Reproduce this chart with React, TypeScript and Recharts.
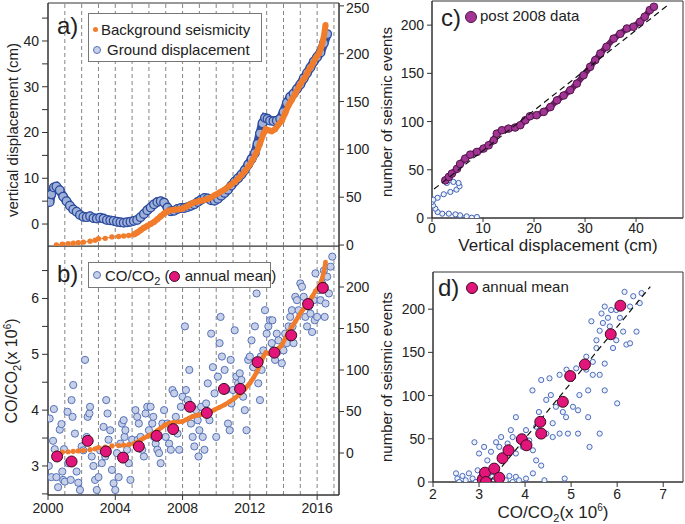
import React from 'react';
import { ScatterChart, Scatter, XAxis, YAxis, ReferenceLine, ReferenceArea } from 'recharts';

const font = '"Liberation Sans", Arial, sans-serif';

// shared time axis
const gridYears = [2001, 2002, 2003, 2004, 2005, 2006, 2007, 2008, 2009, 2010, 2011, 2012, 2013, 2014, 2015, 2016, 2017];
const yearTicks = [2000, 2004, 2008, 2012, 2016];

// a) ground displacement (cm)
const dispYears = [2000.1, 2000.2, 2000.35, 2000.5, 2000.7, 2000.9, 2001.1, 2001.3, 2001.5, 2001.7, 2001.9, 2002.1, 2002.3, 2002.5, 2002.7, 2002.9, 2003.1, 2003.3, 2003.5, 2003.7, 2003.9, 2004.1, 2004.3, 2004.5, 2004.7, 2004.9, 2005.1, 2005.3, 2005.5, 2005.7, 2005.9, 2006.1, 2006.3, 2006.5, 2006.7, 2006.9, 2007.1, 2007.3, 2007.5, 2007.7, 2007.9, 2008.1, 2008.3, 2008.5, 2008.7, 2008.9, 2009.1, 2009.3, 2009.5, 2009.7, 2009.9, 2010.1, 2010.3, 2010.5, 2010.7, 2010.9, 2011.1, 2011.3, 2011.5, 2011.7, 2011.9, 2012.1, 2012.3, 2012.45, 2012.6, 2012.75, 2012.9, 2013.05, 2013.2, 2013.4, 2013.6, 2013.8, 2014.0, 2014.2, 2014.4, 2014.6, 2014.8, 2015.0, 2015.2, 2015.4, 2015.6, 2015.8, 2016.0, 2016.2, 2016.4, 2016.6];
const dispCm = [4.8, 6.5, 8.0, 8.2, 7.4, 6.0, 5.0, 4.0, 3.2, 2.7, 2.0, 1.6, 1.5, 1.7, 1.3, 1.2, 1.4, 1.2, 0.9, 0.8, 0.7, 0.5, 0.4, 0.3, 0.4, 0.5, 0.7, 0.9, 1.5, 2.2, 3.0, 3.6, 4.3, 4.8, 5.0, 4.7, 3.6, 2.8, 2.9, 3.3, 3.5, 3.5, 3.7, 4.0, 4.3, 4.8, 5.3, 5.7, 5.6, 5.2, 5.1, 5.5, 6.2, 6.8, 7.5, 8.4, 9.3, 10.0, 10.8, 11.8, 13.0, 14.2, 15.5, 17.5, 19.8, 22.0, 23.2, 23.0, 22.6, 22.5, 22.6, 23.0, 24.5, 26.5, 27.8, 28.5, 29.5, 30.5, 31.8, 33.0, 34.2, 35.5, 36.5, 37.5, 39.5, 41.5];

// background seismicity (cumulative events)
const seisEarlyYears = [2000.5, 2000.85, 2001.2, 2001.5, 2001.8, 2002.1, 2002.5, 2002.8, 2003.0, 2003.4, 2003.8, 2004.2, 2004.5, 2004.8, 2005.1];
const seisEarlyCount = [0, 1, 1.5, 2, 2.5, 3, 4, 5, 6.5, 7, 8.5, 9, 9.5, 10, 11];
const seisYears = [2005.1, 2005.3, 2005.5, 2005.7, 2005.9, 2006.1, 2006.3, 2006.5, 2006.7, 2006.9, 2007.0, 2007.2, 2007.5, 2007.8, 2008.0, 2008.2, 2008.4, 2008.6, 2008.8, 2009.0, 2009.3, 2009.6, 2009.9, 2010.2, 2010.5, 2010.8, 2011.1, 2011.4, 2011.7, 2012.0, 2012.2, 2012.4, 2012.6, 2012.8, 2012.95, 2013.1, 2013.3, 2013.5, 2013.7, 2013.9, 2014.1, 2014.3, 2014.5, 2014.7, 2014.9, 2015.1, 2015.3, 2015.5, 2015.7, 2015.9, 2016.1, 2016.25, 2016.4, 2016.5];
const seisCount = [11, 13, 15.5, 18, 20, 22, 24, 27, 30, 33, 34, 36, 37, 37.5, 38, 40, 42, 44, 45, 46, 47, 49, 52, 55, 58, 62, 66, 71, 77, 84, 90, 97, 106, 116, 121, 120, 119, 121, 126, 130, 138, 146, 152, 158, 165, 171, 176, 183, 188, 195, 200, 207, 218, 230];

// b) CO/CO2 samples and annual means
const coYears = [2000.05, 2000.1, 2000.2, 2000.3, 2000.35, 2000.4, 2000.5, 2000.6, 2000.7, 2000.8, 2000.85, 2000.9, 2000.95, 2001.0, 2001.16, 2001.2, 2001.35, 2001.4, 2001.46, 2001.5, 2001.6, 2001.7, 2001.8, 2001.9, 2002.0, 2002.1, 2002.2, 2002.3, 2002.36, 2002.46, 2002.5, 2002.6, 2002.7, 2002.8, 2002.9, 2003.0, 2003.1, 2003.2, 2003.3, 2003.4, 2003.46, 2003.54, 2003.6, 2003.7, 2003.8, 2003.9, 2004.0, 2004.1, 2004.2, 2004.3, 2004.4, 2004.5, 2004.55, 2004.6, 2004.7, 2004.8, 2004.9, 2005.0, 2005.2, 2005.3, 2005.34, 2005.4, 2005.5, 2005.6, 2005.7, 2005.8, 2005.9, 2006.0, 2006.1, 2006.2, 2006.26, 2006.3, 2006.4, 2006.5, 2006.6, 2006.7, 2006.8, 2006.9, 2007.0, 2007.1, 2007.2, 2007.3, 2007.4, 2007.5, 2007.6, 2007.7, 2007.8, 2007.9, 2008.0, 2008.14, 2008.2, 2008.3, 2008.4, 2008.5, 2008.6, 2008.7, 2008.8, 2008.9, 2008.95, 2009.0, 2009.1, 2009.2, 2009.3, 2009.4, 2009.5, 2009.6, 2009.7, 2009.8, 2009.9, 2010.0, 2010.1, 2010.2, 2010.26, 2010.34, 2010.5, 2010.6, 2010.7, 2010.8, 2010.86, 2010.9, 2011.0, 2011.1, 2011.2, 2011.3, 2011.4, 2011.5, 2011.6, 2011.7, 2011.8, 2011.9, 2012.0, 2012.1, 2012.2, 2012.3, 2012.4, 2012.5, 2012.6, 2012.65, 2012.7, 2012.8, 2012.9, 2013.0, 2013.1, 2013.2, 2013.3, 2013.34, 2013.4, 2013.5, 2013.6, 2013.7, 2013.8, 2013.9, 2014.0, 2014.1, 2014.2, 2014.3, 2014.4, 2014.5, 2014.54, 2014.6, 2014.7, 2014.8, 2014.9, 2015.0, 2015.1, 2015.2, 2015.3, 2015.4, 2015.5, 2015.6, 2015.7, 2015.8, 2015.86, 2015.9, 2016.0, 2016.1, 2016.2, 2016.3, 2016.4, 2016.45, 2016.5, 2016.6, 2016.7, 2016.8, 2016.9];
const coValues = [3.0, 3.85, 2.8, 3.45, 4.02, 3.3, 2.8, 2.62, 3.65, 3.75, 2.9, 2.75, 3.3, 2.72, 3.97, 3.05, 2.75, 4.18, 3.88, 4.45, 3.58, 2.9, 2.7, 2.57, 3.35, 3.28, 4.9, 3.52, 3.88, 3.94, 4.06, 3.17, 3.0, 2.75, 2.57, 2.8, 3.28, 3.05, 3.7, 3.17, 4.18, 3.94, 3.47, 3.64, 2.93, 2.69, 2.57, 3.23, 2.8, 3.4, 3.76, 3.82, 3.52, 3.64, 3.29, 3.05, 2.75, 3.47, 4.0, 3.88, 3.47, 3.76, 3.52, 3.29, 3.17, 3.94, 4.06, 3.64, 4.06, 3.76, 3.88, 3.52, 3.4, 3.29, 3.23, 3.05, 3.76, 4.0, 3.52, 3.76, 3.4, 3.29, 4.36, 4.3, 3.88, 3.58, 3.29, 4.06, 4.24, 5.5, 4.36, 4.18, 4.72, 3.76, 3.52, 3.35, 4.0, 3.82, 3.17, 3.64, 4.06, 3.52, 3.29, 4.12, 4.48, 3.82, 5.37, 4.77, 4.3, 3.52, 4.6, 5.2, 5.67, 4.96, 4.72, 4.36, 3.76, 3.64, 4.9, 4.12, 4.36, 5.43, 4.6, 4.48, 4.66, 4.54, 4.24, 4.0, 3.64, 4.9, 4.96, 5.25, 4.77, 5.5, 6.09, 4.48, 4.18, 4.96, 4.72, 5.07, 5.79, 5.37, 5.5, 5.61, 5.2, 5.61, 5.07, 4.9, 5.37, 5.25, 5.07, 4.84, 5.07, 5.37, 5.2, 5.5, 5.67, 5.79, 5.5, 5.2, 6.03, 5.97, 5.79, 6.27, 6.21, 6.03, 5.67, 5.5, 5.85, 5.73, 5.4, 5.97, 5.61, 6.45, 5.67, 6.15, 5.97, 6.27, 6.5, 5.67, 5.91, 6.39, 6.09, 6.57, 6.75];
const meanYears = [2000.54, 2001.4, 2002.36, 2003.44, 2004.46, 2005.4, 2006.46, 2007.44, 2008.44, 2009.44, 2010.46, 2011.42, 2012.46, 2013.46, 2014.46, 2015.46, 2016.34];
const meanCo = [3.17, 3.08, 3.45, 3.26, 3.15, 3.35, 3.54, 3.66, 4.06, 3.95, 4.38, 4.38, 4.86, 5.03, 5.34, 5.9, 6.19];

// c) seismic events vs vertical displacement
const preDisp = [8.8, 7.8, 6.8, 5.5, 4.6, 3.3, 2.0, 1.1, 0.65, 0.2, 0.0, 0.3, 1.1, 2.3, 3.6, 4.8, 5.4, 5.2, 4.2, 2.9];
const preEvents = [1, 0.3, 1.7, 2.8, 3.8, 4.5, 4.5, 6.2, 9.7, 13, 16.6, 19, 21, 24.6, 27, 29.4, 32.9, 36.3, 37.4, 36.3];
const postDisp = [2.6, 3.3, 3.9, 4.9, 5.5, 6.5, 7.5, 8.8, 10.1, 11.1, 12.1, 12.7, 13.7, 15.0, 16.3, 17.3, 18.3, 19.2, 20.5, 21.9, 23.2, 24.5, 25.8, 27.1, 28.4, 29.7, 31.0, 32.0, 33.0, 34.2, 35.6, 36.9, 38.2, 39.5, 40.8, 41.7, 42.7, 43.5];
const postEvents = [39, 42.6, 46, 51, 56, 61.6, 65.7, 68.5, 72, 75.4, 80.6, 87.5, 91, 92.7, 93.8, 96.2, 101.4, 105.5, 106.6, 110, 115, 122, 127, 132.5, 139.4, 148, 156.7, 163.7, 170.6, 177.5, 186, 191, 196.5, 198.3, 203.5, 208.7, 215.6, 219];
const cFitDisp = [0.4, 46.3];
const cFitEvents = [30, 221];

// d) seismic events vs CO/CO2
const dCo = [2.5, 2.53, 2.57, 2.64, 2.71, 2.78, 2.86, 2.93, 2.97, 3.04, 3.22, 3.29, 3.37, 3.58, 3.66, 3.73, 3.8, 3.87, 4.02, 4.17, 4.42, 4.86, 3.0, 3.11, 3.18, 3.26, 3.37, 3.44, 3.48, 3.55, 3.62, 3.69, 3.73, 3.8, 3.87, 3.95, 4.02, 4.09, 4.17, 4.24, 4.35, 4.24, 4.46, 4.6, 4.75, 4.93, 5.15, 5.4, 5.62, 3.8, 2.9, 4.3, 4.46, 4.56, 4.67, 4.82, 4.89, 4.35, 4.53, 4.75, 4.9, 5.11, 5.33, 5.47, 5.62, 5.04, 5.18, 5.37, 5.73, 5.15, 4.16, 5.33, 5.47, 5.55, 5.62, 5.44, 5.69, 5.8, 5.91, 5.98, 6.06, 6.13, 6.2, 6.28, 6.35, 6.42, 6.53, 6.49, 5.98, 5.87, 6.16, 5.84, 5.55, 5.73, 6.0, 4.6, 5.37, 6.28, 5.66, 5.73];
const dEvents = [10, 4, 0, 7, 2, 10, 4, 0, 13.5, 6, 2, 6, 10, 2, 7, 0, 6, 2, 4, 10, 2, 4, 33, 40.6, 25, 35, 46, 40.6, 52, 29, 44.5, 60, 52, 33, 48, 40.6, 60, 48, 36.7, 25, 19, 64, 56, 52, 56, 56, 56, 40.6, 56, 75, 46, 81, 95, 100.6, 87, 81, 75, 118, 120, 124, 130, 131.5, 130, 124, 124, 87, 100.6, 106, 106, 83, 106, 145, 139, 164, 175, 186, 184, 190, 155, 164, 190, 174, 159, 160.5, 215, 174, 218.6, 207, 199, 199, 220, 180, 155, 137, 91, 68, 75, 203, 195, 203];
const dMeanCo = [3.08, 3.13, 3.15, 3.33, 3.44, 3.51, 3.64, 3.93, 4.03, 4.33, 4.35, 4.82, 4.98, 5.3, 5.86, 6.07];
const dMeanEvents = [3.1, 10.8, 0, 15.5, 5, 27.5, 36.7, 49.5, 42.5, 69.6, 56, 92.8, 122.6, 136, 171, 204];
const dFitCo = [3.22, 6.72];
const dFitEvents = [0, 226];

const zip = (xs: number[], ys: number[]) => xs.map((x, i) => ({ x, y: ys[i] }));

const dot = (r: number, fill: string, stroke: string, sw = 1) => (p: any) =>
  p.cx == null ? <g /> : <circle cx={p.cx} cy={p.cy} r={r} fill={fill} stroke={stroke} strokeWidth={sw} />;

const tick = { fontSize: 14, fill: '#222', fontFamily: font };
const axisLine = { stroke: '#333' };
const ORANGE = '#f07c2c';
const BLUE = '#3352a6';

const frame = (x1: number, x2: number, y1: number, y2: number, yAxisId?: string) => (
  <ReferenceArea x1={x1} x2={x2} y1={y1} y2={y2} yAxisId={yAxisId} fill="none" stroke="#333" strokeWidth={1} ifOverflow="visible" />
);

const yearLines = (yAxisId: string) =>
  gridYears.map((yr) => (
    <ReferenceLine key={yr} x={yr} yAxisId={yAxisId} stroke="#666" strokeWidth={0.8} strokeDasharray="4 3" />
  ));

const abs = (left: number, top: number, extra: React.CSSProperties = {}): React.CSSProperties => ({
  position: 'absolute', left, top, fontFamily: font, color: '#222', whiteSpace: 'nowrap', lineHeight: 1, ...extra,
});

const VLabel: React.FC<{ cx: number; cy: number; size: number; children: React.ReactNode }> = ({ cx, cy, size, children }) => (
  <div style={abs(cx, cy, { fontSize: size, transform: 'translate(-50%, -50%) rotate(-90deg)' })}>{children}</div>
);

const App: React.FC = () => {
  const ground = zip(dispYears, dispCm);
  const seisEarly = zip(seisEarlyYears, seisEarlyCount);
  const seis = zip(seisYears, seisCount);
  const co = zip(coYears, coValues);
  const means = zip(meanYears, meanCo);

  return (
    <div style={{ position: 'absolute', left: 0, top: 0, width: 685, height: 524, background: '#fff', overflow: 'hidden' }}>
      {/* a) */}
      <div style={{ position: 'absolute', left: 0, top: 0 }}>
        <ScatterChart width={390} height={258} margin={{ top: 3, right: 0, bottom: 12, left: 0 }}>
          <XAxis type="number" dataKey="x" domain={[2000, 2017.3]} allowDataOverflow hide />
          <YAxis yAxisId="l" type="number" dataKey="y" domain={[-4.8, 48.3]} allowDataOverflow width={48}
            ticks={[0, 5, 10, 15, 20, 25, 30, 35, 40, 45]} tickFormatter={(v: number) => (v % 10 === 0 ? String(v) : '')}
            tick={tick} tickSize={6} tickMargin={3} axisLine={axisLine} tickLine={axisLine} />
          <YAxis yAxisId="r" orientation="right" type="number" dataKey="y" domain={[-1, 253]} allowDataOverflow width={51}
            ticks={[0, 50, 100, 150, 200, 250]} tick={tick} tickSize={5} tickMargin={2} axisLine={axisLine} tickLine={axisLine} />
          {yearLines('l')}
          {frame(2000, 2017.3, -4.8, 48.3, 'l')}
          <Scatter yAxisId="l" data={ground} isAnimationActive={false}
            line={{ stroke: BLUE, strokeWidth: 9 }} shape={dot(4.3, '#9fb0d9', '#2d4c9e', 1.3)} />
          <Scatter yAxisId="r" data={seisEarly} isAnimationActive={false}
            line={{ stroke: ORANGE, strokeWidth: 1 }} shape={dot(2.7, ORANGE, ORANGE, 0)} />
          <Scatter yAxisId="r" data={seis} isAnimationActive={false}
            line={{ stroke: ORANGE, strokeWidth: 6 }} shape={dot(3, ORANGE, ORANGE, 0)} />
        </ScatterChart>
      </div>

      {/* b) */}
      <div style={{ position: 'absolute', left: 0, top: 246 }}>
        <ScatterChart width={390} height={279} margin={{ top: 0, right: 0, bottom: 0, left: 0 }}>
          <XAxis type="number" dataKey="x" domain={[2000, 2017.3]} allowDataOverflow height={30}
            ticks={yearTicks} tick={tick} tickSize={5} tickMargin={3} axisLine={axisLine} tickLine={axisLine} />
          <YAxis yAxisId="l" type="number" dataKey="y" domain={[2.48, 6.94]} allowDataOverflow width={48}
            ticks={[2.5, 3, 3.5, 4, 4.5, 5, 5.5, 6, 6.5]} tickFormatter={(v: number) => (Number.isInteger(v) ? String(v) : '')}
            tick={tick} tickSize={6} tickMargin={3} axisLine={axisLine} tickLine={axisLine} />
          <YAxis yAxisId="r" orientation="right" type="number" dataKey="y" domain={[-50.6, 249.4]} allowDataOverflow width={51}
            ticks={[0, 50, 100, 150, 200]} tick={tick} tickSize={5} tickMargin={2} axisLine={axisLine} tickLine={axisLine} />
          {yearLines('l')}
          {frame(2000, 2017.3, 2.48, 6.94, 'l')}
          <Scatter yAxisId="l" data={co} isAnimationActive={false} shape={dot(3.6, '#c7d0e6', '#5673bb', 1)} />
          <Scatter yAxisId="r" data={seisEarly} isAnimationActive={false}
            line={{ stroke: ORANGE, strokeWidth: 1 }} shape={dot(2.6, ORANGE, ORANGE, 0)} />
          <Scatter yAxisId="r" data={seis} isAnimationActive={false}
            line={{ stroke: ORANGE, strokeWidth: 4.5 }} shape={dot(2.4, ORANGE, ORANGE, 0)} />
          <Scatter yAxisId="l" data={means} isAnimationActive={false} shape={dot(5.5, '#e2157a', '#3d0a20', 1)} />
        </ScatterChart>
      </div>

      {/* c) */}
      <div style={{ position: 'absolute', left: 380, top: 0 }}>
        <ScatterChart width={305} height={253} margin={{ top: 1, right: 2, bottom: 0, left: 0 }}>
          <XAxis type="number" dataKey="x" domain={[0, 49.2]} allowDataOverflow height={35}
            ticks={[0, 10, 20, 30, 40]} tick={tick} tickSize={4} tickMargin={1} axisLine={axisLine} tickLine={axisLine} />
          <YAxis type="number" dataKey="y" domain={[0, 225]} allowDataOverflow width={52}
            ticks={[0, 50, 100, 150, 200]} tick={tick} tickSize={5} tickMargin={3} axisLine={axisLine} tickLine={axisLine} />
          {frame(0, 49.2, 0, 225)}
          <Scatter data={zip(preDisp, preEvents)} isAnimationActive={false}
            line={{ stroke: '#4a6cc0', strokeWidth: 1 }} shape={dot(2.6, '#eef1f8', '#3f63b8', 1)} />
          <Scatter data={zip(postDisp, postEvents)} isAnimationActive={false}
            line={{ stroke: '#6e1f66', strokeWidth: 6 }} shape={dot(3.8, '#a23594', '#4f1548', 1)} />
          <Scatter data={zip(cFitDisp, cFitEvents)} isAnimationActive={false}
            line={{ stroke: '#111', strokeWidth: 1.2, strokeDasharray: '6 4' }} shape={() => <g />} />
        </ScatterChart>
      </div>

      {/* d) */}
      <div style={{ position: 'absolute', left: 380, top: 262 }}>
        <ScatterChart width={305} height={260} margin={{ top: 10, right: 2, bottom: 0, left: 0 }}>
          <XAxis type="number" dataKey="x" domain={[2, 7.43]} allowDataOverflow height={40}
            ticks={[2, 3, 4, 5, 6, 7]} tick={tick} tickSize={5} tickMargin={2} axisLine={axisLine} tickLine={axisLine} />
          <YAxis type="number" dataKey="y" domain={[0, 243]} allowDataOverflow width={53}
            ticks={[0, 50, 100, 150, 200]} tick={tick} tickSize={5} tickMargin={3} axisLine={axisLine} tickLine={axisLine} />
          {frame(2, 7.43, 0, 243)}
          <Scatter data={zip(dCo, dEvents)} isAnimationActive={false} shape={dot(2.6, '#eef1f8', '#4a6cc0', 1)} />
          <Scatter data={zip(dFitCo, dFitEvents)} isAnimationActive={false}
            line={{ stroke: '#111', strokeWidth: 1.2, strokeDasharray: '6 4' }} shape={() => <g />} />
          <Scatter data={zip(dMeanCo, dMeanEvents)} isAnimationActive={false} shape={dot(5.5, '#e2157a', '#3d0a20', 1)} />
        </ScatterChart>
      </div>

      {/* axis titles */}
      <VLabel cx={12} cy={130} size={15}>vertical displacement (cm)</VLabel>
      <VLabel cx={13} cy={371} size={16}>CO/CO<sub style={{ fontSize: 11 }}>2</sub>(x 10<sup style={{ fontSize: 10 }}>6</sup>)</VLabel>
      <VLabel cx={386} cy={112} size={15}>number of seismic events</VLabel>
      <VLabel cx={386} cy={377} size={15}>number of seismic events</VLabel>
      <div style={abs(558, 237, { fontSize: 17, transform: 'translateX(-50%)' })}>Vertical displacement (cm)</div>
      <div style={abs(553, 503, { fontSize: 17, transform: 'translateX(-50%)' })}>
        CO/CO<sub style={{ fontSize: 11 }}>2</sub>(x 10<sup style={{ fontSize: 10 }}>6</sup>)
      </div>

      {/* panel letters & legends */}
      <div style={abs(57, 14, { fontSize: 24 })}>a)</div>
      <div style={abs(88, 13, { width: 172, height: 47, border: '1px solid #777', background: '#fff', fontSize: 15 })}>
        <span style={{ position: 'absolute', left: 4, top: 13, width: 5, height: 5, borderRadius: '50%', background: ORANGE }} />
        <span style={{ position: 'absolute', left: 12, top: 8 }}>Background seismicity</span>
        <span style={{ position: 'absolute', left: 4, top: 32, width: 6, height: 6, borderRadius: '50%', background: '#c7d0e6', border: '1px solid #5673bb' }} />
        <span style={{ position: 'absolute', left: 18, top: 28 }}>Ground displacement</span>
      </div>

      <div style={abs(57, 262, { fontSize: 24 })}>b)</div>
      <div style={abs(88, 262, { width: 181, height: 24, border: '1px solid #777', background: '#fff', fontSize: 15 })}>
        <span style={{ position: 'absolute', left: 4, top: 8, width: 6, height: 6, borderRadius: '50%', background: '#c7d0e6', border: '1px solid #5673bb' }} />
        <span style={{ position: 'absolute', left: 16, top: 5 }}>
          CO/CO<sub style={{ fontSize: 11 }}>2</sub> (
          <span style={{ display: 'inline-block', width: 9, height: 9, borderRadius: '50%', background: '#e2157a', border: '1px solid #3d0a20', verticalAlign: -1 }} />
          {' '}annual mean)
        </span>
      </div>

      <div style={abs(441, 6, { fontSize: 24 })}>c)</div>
      <span style={abs(465, 11, { width: 10, height: 10, borderRadius: '50%', background: '#a23594', border: '1px solid #4f1548' })} />
      <div style={abs(480, 8, { fontSize: 15 })}>post 2008 data</div>

      <div style={abs(438, 276, { fontSize: 24 })}>d)</div>
      <span style={abs(466, 282, { width: 10, height: 10, borderRadius: '50%', background: '#e2157a', border: '1px solid #3d0a20' })} />
      <div style={abs(482, 279, { fontSize: 15 })}>annual mean</div>
    </div>
  );
};

export default App;
